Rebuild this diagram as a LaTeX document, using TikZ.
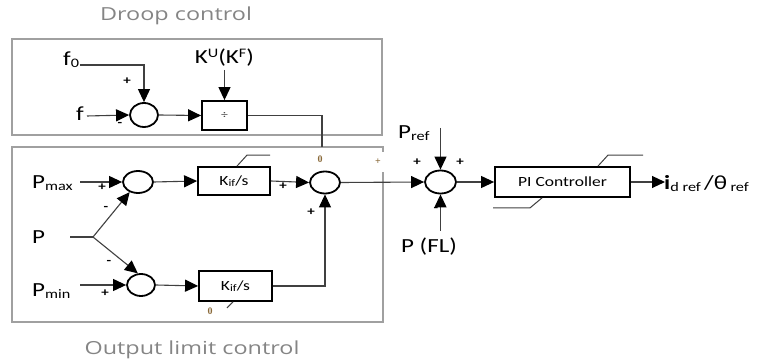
\documentclass[tikz,border=0pt]{standalone}
\usepackage{fontspec}
\setmainfont{Carlito}[FakeStretch=1.25]
\newfontfamily\titlefont{Open Sans}[FakeStretch=1.3]
\newfontfamily\tinyserif{Liberation Serif}
\usetikzlibrary{shapes.geometric,arrows.meta}
\newcommand\sbs[1]{\raisebox{-2pt}{\fontsize{13}{13}\selectfont #1}}
\newcommand\sps[1]{\raisebox{6pt}{\fontsize{13}{13}\selectfont #1}}
\definecolor{linegray}{HTML}{404040}
\definecolor{boxgray}{HTML}{A0A0A0}
\definecolor{titlegray}{HTML}{858585}
\definecolor{tinycol}{HTML}{8A6A3A}
\begin{document}
\begin{tikzpicture}[x=1pt,y=-1pt,
  conn/.style={draw=linegray,line width=1.1pt},
  arr/.style={conn,-{Triangle[length=13pt,width=12pt,color=black,fill=black]}},
  sumnode/.style={ellipse,draw=black,line width=1.8pt,inner sep=0pt},
  blockbox/.style={rectangle,draw=black,line width=1.8pt,inner sep=0pt},
  groupbox/.style={draw=boxgray,line width=1.4pt},
  slash/.style={draw=linegray,line width=1pt},
  lbl/.style={inner sep=0pt,font=\fontsize{20}{20}\selectfont},
  sgn/.style={inner sep=0pt,font=\fontsize{12}{12}\selectfont\bfseries},
  tny/.style={inner sep=0pt,text=tinycol,font=\fontsize{10}{10}\selectfont\tinyserif\bfseries},
  ttl/.style={inner sep=0pt,text=titlegray,font=\fontsize{18}{18}\selectfont\titlefont}]
\useasboundingbox (0,0) rectangle (764,363);
% group boxes
\draw[groupbox] (12,39) rectangle (382,135);
\draw[groupbox] (383,152) -- (383,147) -- (12,147) -- (12,322) -- (383,322) -- (383,172);
\node[ttl] (tD) at (176,16) {Droop control};
\node[ttl] (tO) at (192,350) {Output limit control};
% droop blocks
\node[sumnode,minimum width=28pt,minimum height=24pt] (sumD) at (144,115) {};
\node[blockbox,minimum width=45pt,minimum height=29pt] (div) at (224.5,115.5) {\fontsize{11}{11}\selectfont\color{linegray}÷};
\node[lbl,anchor=west] (f0) at (63,60) {f\sbs{0}};
\node[lbl,anchor=east] (f) at (84,114) {f};
\node[lbl] (kuf) at (224.5,58) {K\sps{U}(K\sps{F})};
\coordinate (f0line) at (80,65);
\coordinate (fline) at (87,116);
\coordinate (kin) at (224.5,70);
\coordinate (dj) at (322,147);
\draw[arr] (f0line) -| (sumD.north);
\draw[arr] (fline) -- (sumD.west);
\draw[arr] (sumD.east) -- (div.west);
\draw[arr] (kin) -- (div.north);
\draw[conn] (div.east) -| (dj);
\node[sgn] at (127,81) {+};
\node[sgn] at (120,124) {-};
% output limit blocks
\node[sumnode,minimum width=30pt,minimum height=22pt] (c1) at (138,182) {};
\node[sumnode,minimum width=28pt,minimum height=22pt] (c2) at (141,285) {};
\node[blockbox,minimum width=72pt,minimum height=28pt] (k1) at (234,181) {\fontsize{14}{14}\selectfont K\raisebox{-1.5pt}{\fontsize{10}{10}\selectfont if}/s};
\node[blockbox,minimum width=73pt,minimum height=30pt] (k2) at (235.5,286) {\fontsize{14}{14}\selectfont K\raisebox{-1.5pt}{\fontsize{10}{10}\selectfont if}/s};
\node[sumnode,minimum width=30pt,minimum height=22pt] (sA) at (325,182.5) {};
\node[lbl,anchor=west] (pmax) at (32,183) {P\sbs{max}};
\node[lbl,anchor=west] (p) at (32,237) {P};
\node[lbl,anchor=west] (pmin) at (32,291) {P\sbs{min}};
\coordinate (pmaxl) at (80,182);
\coordinate (pminl) at (80,285);
\coordinate (pl) at (70,237);
\coordinate (jP) at (93,237);
\draw[arr] (pmaxl) -- (c1.west);
\draw[arr] (pminl) -- (c2.west);
\draw[conn] (pl) -- (jP);
\draw[arr] (jP) -- (c1);
\draw[arr] (jP) -- (c2.105);
\draw[arr] (c1.east) -- (k1.west);
\draw[arr] (c2.east) -- (k2.west);
\draw[arr] (k1.east) -- (sA.west);
\draw[arr] (k2.east) -| (sA.south);
\draw[slash] ([xshift=3pt]k1.north) -- ++(10,-11) -- ++(23,0);
\draw[slash] ([xshift=-2.5pt]k2.south) -- ++(-6,6);
\node[sgn] at (102,187) {+};
\node[sgn] at (106,208) {-};
\node[sgn] at (109,262) {-};
\node[sgn] at (105,293) {+};
\node[sgn] at (283,186) {+};
\node[sgn] at (311,212) {+};
\node[tny] at (320,159) {0};
\node[tny] at (378,162) {+};
\node[tny] at (210,311) {0};
% main loop
\node[sumnode,minimum width=31pt,minimum height=23pt] (s3) at (440.5,182) {};
\node[blockbox,minimum width=135pt,minimum height=30pt] (pi) at (562.5,182) {\fontsize{14}{14}\selectfont PI Controller};
\node[lbl,anchor=west] (pref) at (398,133) {P\sbs{ref}};
\node[lbl] (pfl) at (429,247) {P (FL)};
\node[lbl,anchor=west] (out) at (664,184) {\textbf{i}\sbs{d ref}\,/θ\,\sbs{ref}};
\coordinate (prefin) at (440.5,128);
\coordinate (pflin) at (440.5,231);
\coordinate (outc) at (665,182);
\draw[arr] (sA.east) -- (s3.west);
\draw[arr] (prefin) -- (s3.north);
\draw[arr] (pflin) -- (s3.south);
\draw[arr] (s3.east) -- (pi.west);
\draw[arr] (pi.east) -- (outc);
\draw[slash] ([xshift=35.5pt]pi.north) -- ++(10,-11) -- ++(35,0);
\draw[slash] ([xshift=-20.5pt]pi.south) -- ++(-12,10) -- ++(-37,0);
\node[sgn] at (417,162) {+};
\node[sgn] at (460,162) {+};
\node[sgn] at (436,209) {-};
\end{tikzpicture}
\end{document}
